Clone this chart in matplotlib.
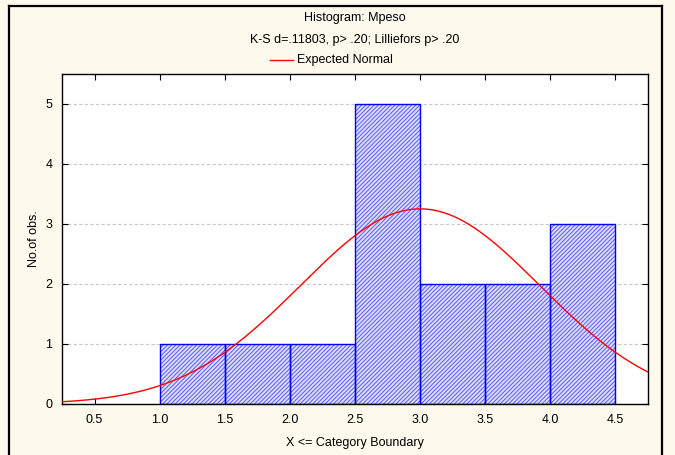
import numpy as np
import matplotlib
matplotlib.use('Agg')
import matplotlib.pyplot as plt
from matplotlib.lines import Line2D

plt.rcParams['font.family'] = ['Liberation Sans', 'DejaVu Sans']
plt.rcParams['hatch.linewidth'] = 0.7

# Histogram of Mpeso: bin edges and counts
bin_edges = [1.0, 1.5, 2.0, 2.5, 3.0, 3.5, 4.0, 4.5]
counts = [1, 1, 1, 5, 2, 2, 3]
x_ticks = [0.5, 1.0, 1.5, 2.0, 2.5, 3.0, 3.5, 4.0, 4.5]
y_ticks = [0, 1, 2, 3, 4, 5]

# Parameters for the expected normal curve
fit_mean = 3.0
fit_sd = 0.92
bin_width = 0.5

fig = plt.figure(figsize=(6.75, 4.55), dpi=100, facecolor='#fef9ed')
ax = fig.add_axes([62 / 675, 51 / 455, 586 / 675, 330 / 455])
ax.set_facecolor('white')

# hatched fill, then the solid blue outline on top
ax.bar(bin_edges[:-1], counts, width=bin_width, align='edge',
       facecolor='#dcdcff', edgecolor='#5a5aff', hatch='////////',
       linewidth=0, zorder=2)
ax.bar(bin_edges[:-1], counts, width=bin_width, align='edge',
       fill=False, edgecolor='#0000ee', linewidth=1.0, zorder=2.5)

n = sum(counts)
xs = np.linspace(0.25, 4.75, 400)
ys = n * bin_width * np.exp(-0.5 * ((xs - fit_mean) / fit_sd) ** 2) / (fit_sd * np.sqrt(2 * np.pi))
ax.plot(xs, ys, color='#ff0000', linewidth=1.0, zorder=3)

ax.set_xlim(0.25, 4.75)
ax.set_ylim(0, 5.5)
ax.set_xticks(x_ticks)
ax.set_xticklabels(['%.1f' % t for t in x_ticks])
ax.set_yticks(y_ticks)
ax.tick_params(direction='in', length=4, width=0.8, labelsize=9, pad=7,
               top=True, right=True, colors='black')
ax.yaxis.grid(True, color='#c8c8c8', linestyle=(0, (3, 2)), linewidth=0.8)
ax.set_axisbelow(True)
for s in ax.spines.values():
    s.set_linewidth(1.0)

ax.set_xlabel('X <= Category Boundary', fontsize=9, labelpad=8)
ax.set_ylabel('No.of obs.', fontsize=9, labelpad=4)

# Title lines and legend above the plot
fig.text(355 / 675, 1 - 18 / 455, 'Histogram: Mpeso', ha='center', va='center', fontsize=9)
fig.text(355 / 675, 1 - 40 / 455, 'K-S d=.11803, p> .20; Lilliefors p> .20',
         ha='center', va='center', fontsize=9)
fig.add_artist(Line2D([270 / 675, 293 / 675], [1 - 60 / 455, 1 - 60 / 455],
                      color='#ff0000', linewidth=1.0))
fig.text(297 / 675, 1 - 60 / 455, 'Expected Normal', ha='left', va='center', fontsize=9)

# Window frame lines
fig.add_artist(Line2D([9 / 675, 662 / 675], [1 - 6 / 455, 1 - 6 / 455], color='black', linewidth=1.6))
fig.add_artist(Line2D([9 / 675, 9 / 675], [0, 1 - 6 / 455], color='black', linewidth=1.6))
fig.add_artist(Line2D([662 / 675, 662 / 675], [0, 1 - 6 / 455], color='black', linewidth=1.6))

fig.savefig('out.png', dpi=100, facecolor=fig.get_facecolor())
